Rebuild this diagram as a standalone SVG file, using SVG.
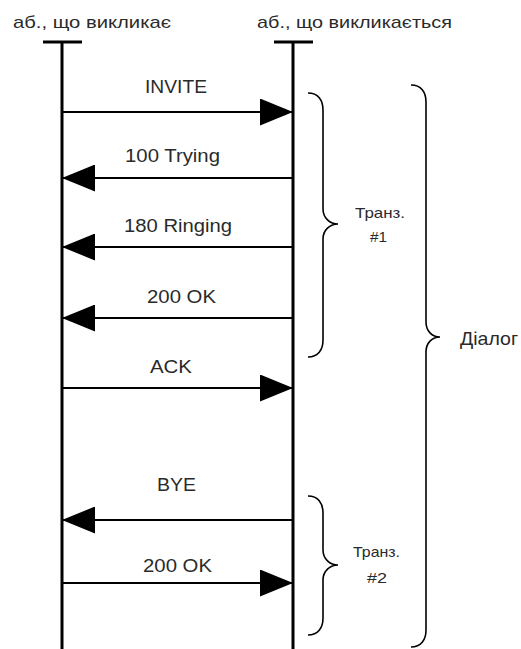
<svg xmlns="http://www.w3.org/2000/svg" width="521" height="649" viewBox="0 0 521 649">
<style>
text{font-family:"Liberation Sans",Arial,sans-serif;fill:#2a2a2a}
.t{font-size:17px}
.m{font-size:18px;text-anchor:start}
.s{font-size:15px}
.life{stroke:#000;stroke-width:3;fill:none}
.msg{stroke:#000;stroke-width:2;fill:none}
.br{stroke:#000;stroke-width:1.6;fill:none}
</style>
<defs>
<marker id="ah" markerWidth="33" markerHeight="27" refX="33" refY="13.5" orient="auto" markerUnits="userSpaceOnUse">
<path d="M0,0 L33,13.5 L0,27 Z" fill="#000"/>
</marker>
</defs>
<rect width="521" height="649" fill="#fff"/>
<g id="caller">
<text class="t" x="13" y="28" textLength="158" lengthAdjust="spacingAndGlyphs">аб., що викликає</text>
<line class="life" x1="43" y1="42" x2="82" y2="42"/>
<line class="life" x1="62" y1="42" x2="62" y2="649"/>
</g>
<g id="callee">
<text class="t" x="257" y="28" textLength="195" lengthAdjust="spacingAndGlyphs">аб., що викликається</text>
<line class="life" x1="274" y1="42" x2="313" y2="42"/>
<line class="life" x1="293" y1="42" x2="293" y2="649"/>
</g>
<g id="connectors">
<line class="msg" x1="62" y1="112" x2="293" y2="112" marker-end="url(#ah)"/>
<text class="m" x="145" y="93" textLength="62" lengthAdjust="spacingAndGlyphs">INVITE</text>
<line class="msg" x1="293" y1="178" x2="62" y2="178" marker-end="url(#ah)"/>
<text class="m" x="125" y="162" textLength="95" lengthAdjust="spacingAndGlyphs">100 Trying</text>
<line class="msg" x1="293" y1="247" x2="62" y2="247" marker-end="url(#ah)"/>
<text class="m" x="124" y="232" textLength="108" lengthAdjust="spacingAndGlyphs">180 Ringing</text>
<line class="msg" x1="293" y1="318" x2="62" y2="318" marker-end="url(#ah)"/>
<text class="m" x="147" y="303" textLength="69" lengthAdjust="spacingAndGlyphs">200 OK</text>
<line class="msg" x1="62" y1="388" x2="293" y2="388" marker-end="url(#ah)"/>
<text class="m" x="150" y="373" textLength="42" lengthAdjust="spacingAndGlyphs">ACK</text>
<line class="msg" x1="293" y1="520" x2="62" y2="520" marker-end="url(#ah)"/>
<text class="m" x="157" y="491" textLength="39" lengthAdjust="spacingAndGlyphs">BYE</text>
<line class="msg" x1="62" y1="583" x2="293" y2="583" marker-end="url(#ah)"/>
<text class="m" x="143" y="572" textLength="69" lengthAdjust="spacingAndGlyphs">200 OK</text>
</g>
<g id="trans1">
<path class="br" d="M308,93 C318,93 323,100 323,110 V209 C323,218 330,224 338,224 C330,224 323,230 323,239 V340 C323,350 318,357 308,357"/>
<text class="s" x="355" y="218" textLength="50" lengthAdjust="spacingAndGlyphs">Транз.</text>
<text class="s" x="370" y="242" textLength="17" lengthAdjust="spacingAndGlyphs">#1</text>
</g>
<g id="trans2">
<path class="br" d="M308,496 C318,496 323,503 323,513 V550 C323,559 330,565 338,565 C330,565 323,571 323,580 V618 C323,628 318,635 308,635"/>
<text class="s" x="353" y="557" textLength="47" lengthAdjust="spacingAndGlyphs">Транз.</text>
<text class="s" x="367" y="583" textLength="20" lengthAdjust="spacingAndGlyphs">#2</text>
</g>
<g id="dialog">
<path class="br" d="M411,85 C421,85 426,92 426,102 V322 C426,331 432,337 440,337 C432,337 426,343 426,352 V630 C426,640 421,647 411,647"/>
<text x="460" y="345" font-size="19" textLength="58" lengthAdjust="spacingAndGlyphs">Діалог</text>
</g>
</svg>
